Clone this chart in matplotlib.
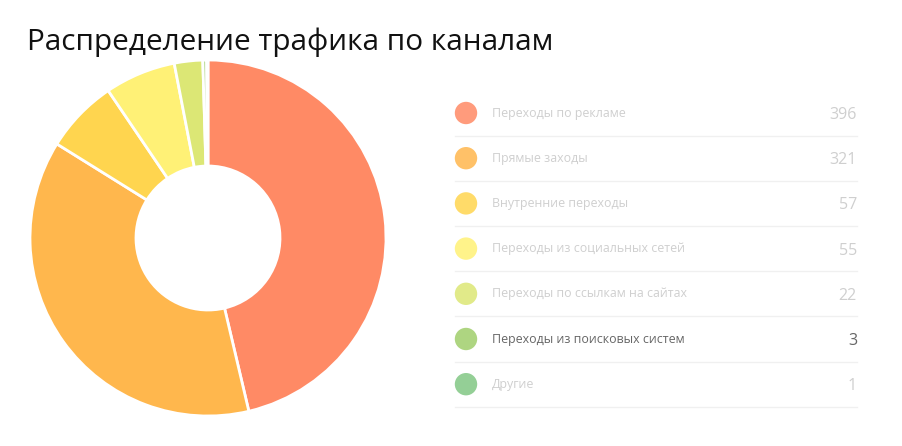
import matplotlib
matplotlib.use("Agg")
import matplotlib.pyplot as plt

categories = ["Переходы по рекламе", "Прямые заходы", "Внутренние переходы",
              "Переходы из социальных сетей", "Переходы по ссылкам на сайтах",
              "Переходы из поисковых систем", "Другие"]
values = [396, 321, 57, 55, 22, 3, 1]
colors = ["#FF8A65", "#FFB74D", "#FFD54F", "#FFF176", "#DCE775", "#AED581", "#81C784"]
highlighted = [False, False, False, False, False, True, False]

plt.rcParams['font.family'] = ['Open Sans', 'DejaVu Sans']

W, H = 903, 446
fig = plt.figure(figsize=(W / 100, H / 100), dpi=100)

# Donut
cx, cy, r = 208, 238, 178
ax = fig.add_axes([(cx - r) / W, (H - cy - r) / H, 2 * r / W, 2 * r / H])
ax.pie(values, colors=colors, startangle=90, counterclock=False, radius=1,
       wedgeprops=dict(width=1 - 72 / 178, edgecolor="white", linewidth=2))
ax.set_xlim(-1, 1)
ax.set_ylim(-1, 1)
ax.set_aspect("equal")
ax.axis("off")

# Overlay in pixel coords
ov = fig.add_axes([0, 0, 1, 1])
ov.set_xlim(0, W)
ov.set_ylim(H, 0)
ov.axis("off")

ov.text(27, 42, "Распределение трафика по каналам", fontsize=21.4, color="#111111",
        va="center", ha="left")

row0, step = 113, 45.2
for i, (cat, val, col, hl) in enumerate(zip(categories, values, colors, highlighted)):
    y = row0 + i * step
    alpha = 1.0 if hl else 0.85
    ov.scatter([466], [y], s=260, color=col, alpha=alpha, edgecolors="none", zorder=3)
    tcol = "#666666" if hl else "#cfcfcf"
    ov.text(492, y, cat, fontsize=8.9, color=tcol, va="center", ha="left")
    ov.text(857, y + 2, str(val), fontsize=11.5, color=tcol, va="center", ha="right")
    ov.plot([455, 857], [y + 22.5, y + 22.5], color="#f0f0f0", lw=1, zorder=1)

fig.savefig("out.png", dpi=100, facecolor="white")
